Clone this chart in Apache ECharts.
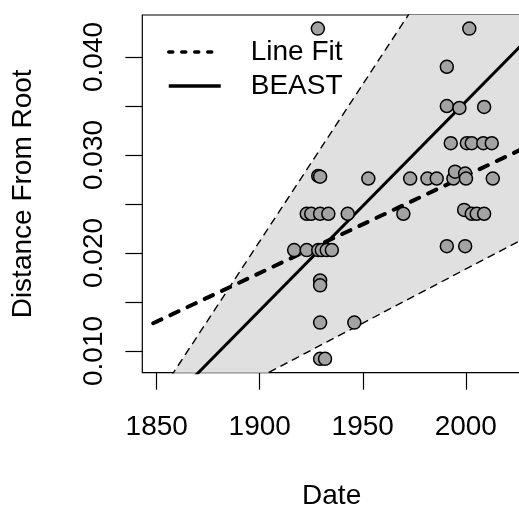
<!DOCTYPE html>
<html>
<head>
<meta charset="utf-8">
<script src="https://cdn.jsdelivr.net/npm/echarts@6/dist/echarts.min.js"></script>
<style>
html,body{margin:0;padding:0;background:#fff;}
#chart{width:519px;height:506px;}
</style>
</head>
<body>
<div id="chart"></div>
<script>
// ---- data ----
const dates = [
  1928.2, 2001.7, 1990.8, 1990.8, 1996.9, 2008.9,
  1992.7, 2000.5, 2002.9, 2008.5, 2012.6,
  1928.4, 1929.3, 1952.7, 1973.0, 1981.4, 1985.9, 1994.0, 1994.8, 1999.7, 2000.1, 2013.1,
  1922.8, 1925.0, 1929.3, 1933.3, 1942.7, 1969.7, 1999.2, 2002.9, 2005.3, 2008.9,
  1916.7, 1922.8, 1928.4, 1930.1, 1932.5, 1935.0, 1990.8, 1999.7,
  1929.3, 1929.3, 1929.3, 1945.9, 1929.3, 1931.7
];
const distances = [
  0.0429, 0.0429, 0.0390, 0.0350, 0.0348, 0.0349,
  0.0312, 0.0312, 0.0312, 0.0312, 0.0312,
  0.02786, 0.02779, 0.0276, 0.0276, 0.0276, 0.0276, 0.0276, 0.0283, 0.0281, 0.0276, 0.0276,
  0.0240, 0.0240, 0.0240, 0.0240, 0.0240, 0.0240, 0.0244, 0.0240, 0.0240, 0.0240,
  0.0203, 0.0203, 0.0203, 0.0203, 0.0203, 0.0203, 0.0207, 0.0207,
  0.0172, 0.0167, 0.0129, 0.0129, 0.0092, 0.0092
];
const xTicks = [1850, 1900, 1950, 2000];
const yTicks = [0.010, 0.015, 0.020, 0.025, 0.030, 0.035, 0.040];
const yTickLabels = [0.010, 0.020, 0.030, 0.040];

const lineFitX = [1848.3, 2027.0];
const lineFitY = [0.01283, 0.03057];
const beastX = [1843.0, 2027.0];
const beastY = [0.00199, 0.04120];
const upperX = [1843.0, 2027.0];
const upperY = [0.00295, 0.06187];
const lowerX = [1843.0, 2027.0];
const lowerY = [0.00104, 0.02134];

const zip = (a, b) => a.map((v, i) => [v, b[i]]);
const FONT = '"Liberation Sans", Arial, Helvetica, sans-serif';

const chart = echarts.init(document.getElementById('chart'), null, {renderer: 'canvas'});
chart.setOption({
  animation: false,
  backgroundColor: '#ffffff',
  grid: {left: 142.3, right: -2, top: 15, bottom: 133.3, show: true,
         outerBoundsMode: 'none', containLabel: false,
         borderColor: '#000', borderWidth: 1.2, backgroundColor: 'transparent'},
  legend: {
    orient: 'vertical', left: 167, top: 38, padding: 0,
    itemWidth: 52, itemHeight: 14, itemGap: 6,
    textStyle: {fontFamily: FONT, fontSize: 28, color: '#000', padding: [0, 0, 0, 25]},
    data: [
      {name: 'Line Fit', itemStyle: {opacity: 0}, lineStyle: {width: 3.5, type: [4, 9], cap: 'round', color: '#000'}},
      {name: 'BEAST', itemStyle: {opacity: 0}, lineStyle: {width: 3.5, type: 'solid', color: '#000'}}
    ]
  },
  xAxis: {
    type: 'value', min: 1843.0, max: 2026.8,
    name: 'Date', nameLocation: 'middle', nameGap: 110,
    nameTextStyle: {fontFamily: FONT, fontSize: 28, color: '#000'},
    axisLine: {show: false},
    axisTick: {show: true, length: 17, lineStyle: {color: '#000', width: 1.2}, customValues: xTicks},
    axisLabel: {fontFamily: FONT, fontSize: 28, color: '#000', margin: 41, customValues: xTicks,
                formatter: v => String(v)},
    splitLine: {show: false}
  },
  yAxis: {
    type: 'value', min: 0.007786, max: 0.044286,
    name: 'Distance From Root', nameLocation: 'middle', nameGap: 105,
    nameTextStyle: {fontFamily: FONT, fontSize: 28, color: '#000'},
    axisLine: {show: false},
    axisTick: {show: true, length: 17, lineStyle: {color: '#000', width: 1.2}, customValues: yTicks},
    axisLabel: {fontFamily: FONT, fontSize: 28, color: '#000', margin: 34, rotate: 90,
                customValues: yTickLabels, formatter: v => v.toFixed(3)},
    splitLine: {show: false}
  },
  series: [
    {
      type: 'custom', name: 'band', clip: true, silent: true, z: 1,
      data: [0],
      renderItem: (params, api) => {
        const pts = zip(upperX, upperY).concat(zip(lowerX, lowerY).reverse()).map(p => api.coord(p));
        return {type: 'polygon', shape: {points: pts}, style: {fill: '#e0e0e0', stroke: null}};
      }
    },
    {type: 'line', name: 'upper', data: zip(upperX, upperY), symbol: 'none', clip: true, z: 2,
     lineStyle: {color: '#000', width: 1.4, type: [8, 5]}},
    {type: 'line', name: 'lower', data: zip(lowerX, lowerY), symbol: 'none', clip: true, z: 2,
     lineStyle: {color: '#000', width: 1.4, type: [8, 5]}},
    {type: 'line', name: 'Line Fit', data: zip(lineFitX, lineFitY), symbol: 'none', clip: true, z: 3,
     itemStyle: {color: '#000'},
     lineStyle: {color: '#000', width: 4, type: [9, 10], cap: 'round'}},
    {type: 'line', name: 'BEAST', data: zip(beastX, beastY), symbol: 'none', clip: true, z: 3,
     itemStyle: {color: '#000'},
     lineStyle: {color: '#000', width: 3}},
    {type: 'scatter', name: 'points', data: zip(dates, distances), symbol: 'circle', symbolSize: 13, z: 4,
     itemStyle: {color: '#a3a3a3', borderColor: '#000', borderWidth: 1.5, opacity: 1}}
  ]
});
</script>
</body>
</html>
